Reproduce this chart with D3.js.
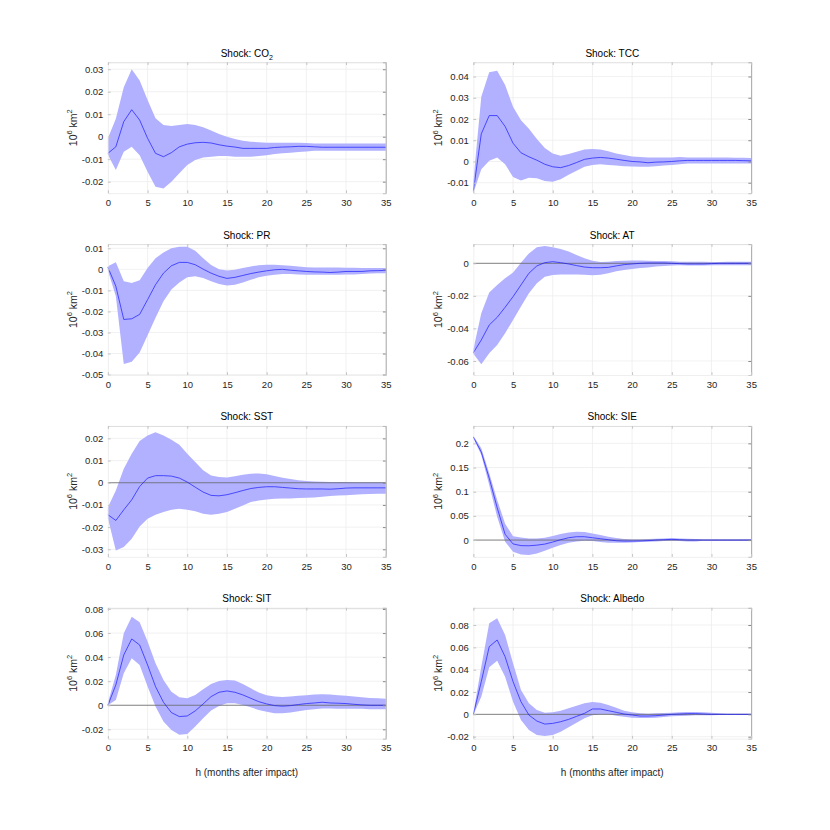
<!DOCTYPE html>
<html>
<head>
<meta charset="utf-8">
<script src="https://cdn.jsdelivr.net/npm/d3@7"></script>
<style>
  body { margin: 0; background: #fff; }
  svg { display: block; }
</style>
</head>
<body>
<div id="chart"></div>
<script>
// impulse responses of sea ice extent, h = 0..35 months after impact
const horizons = [0, 1, 2, 3, 4, 5, 6, 7, 8, 9, 10, 11, 12, 13, 14, 15, 16, 17,
    18, 19, 20, 21, 22, 23, 24, 25, 26, 27, 28, 29, 30, 31, 32, 33, 34, 35];
const xTicks = [0, 5, 10, 15, 20, 25, 30, 35];

// Shock: CO2
const co2Mean = [-0.0074, -0.0045, 0.0067, 0.012, 0.0074, -0.0007, -0.0074, -0.0089, -0.0071, -0.0045,
    -0.0033, -0.0027, -0.0025, -0.0028, -0.0036, -0.0042, -0.0046, -0.0052, -0.0052, -0.0052,
    -0.0052, -0.0048, -0.0046, -0.0045, -0.0043, -0.0043, -0.0045, -0.0047, -0.0047, -0.0047,
    -0.0047, -0.0047, -0.0047, -0.0047, -0.0047, -0.0047];
const co2Upper = [-0.0007, 0.008, 0.022, 0.030, 0.025, 0.0163, 0.0082, 0.0052, 0.0047, 0.0052,
    0.0056, 0.0052, 0.0042, 0.0027, 0.0012, 0.0, -0.001, -0.0018, -0.0022, -0.0025,
    -0.0027, -0.0027, -0.0027, -0.0027, -0.0027, -0.0028, -0.003, -0.003, -0.003, -0.003,
    -0.003, -0.003, -0.003, -0.003, -0.003, -0.003];
const co2Lower = [-0.008, -0.0148, -0.0067, -0.0045, -0.0082, -0.0156, -0.0223, -0.023, -0.020, -0.0163,
    -0.0126, -0.0104, -0.0092, -0.0089, -0.0086, -0.0086, -0.0089, -0.0089, -0.0089, -0.0086,
    -0.0082, -0.0077, -0.0074, -0.0071, -0.0068, -0.0066, -0.0062, -0.0062, -0.0062, -0.0062,
    -0.0062, -0.0062, -0.0062, -0.0062, -0.0062, -0.0062];
const co2Domain = [-0.0251, 0.0331];
const co2Ticks = [-0.02, -0.01, 0, 0.01, 0.02, 0.03];

// Shock: TCC
const tccMean = [-0.014, 0.013, 0.0216, 0.0216, 0.0165, 0.0086, 0.0041, 0.0022, 0.0006, -0.0013,
    -0.0025, -0.0029, -0.0019, -0.0005, 0.001, 0.0016, 0.0019, 0.0016, 0.0011, 0.0005,
    0.0, -0.0002, -0.0006, -0.0003, -0.0002, 0.0, 0.0003, 0.0005, 0.0005, 0.0005,
    0.0005, 0.0005, 0.0005, 0.0005, 0.0004, 0.0003];
const tccUpper = [-0.0092, 0.0305, 0.042, 0.0427, 0.036, 0.0257, 0.0194, 0.0154, 0.0106, 0.0063,
    0.0038, 0.0027, 0.0035, 0.0046, 0.0056, 0.0059, 0.0056, 0.0048, 0.0038, 0.003,
    0.0024, 0.0021, 0.0019, 0.0019, 0.0019, 0.0019, 0.0021, 0.0019, 0.0019, 0.0019,
    0.0019, 0.0019, 0.0019, 0.0018, 0.0017, 0.0016];
const tccLower = [-0.0148, -0.0037, 0.0003, 0.0019, -0.0013, -0.0073, -0.0089, -0.0076, -0.0079, -0.0092,
    -0.0095, -0.0084, -0.0063, -0.0044, -0.0025, -0.0016, -0.0013, -0.0016, -0.0019, -0.0022,
    -0.0024, -0.0025, -0.0025, -0.0022, -0.0019, -0.0016, -0.0013, -0.001, -0.001, -0.001,
    -0.001, -0.001, -0.001, -0.001, -0.001, -0.001];
const tccDomain = [-0.0149, 0.0467];
const tccTicks = [-0.01, 0, 0.01, 0.02, 0.03, 0.04];

// Shock: PR
const prMean = [0.001, -0.008, -0.0238, -0.0235, -0.0214, -0.0144, -0.0073, -0.0018, 0.0017, 0.0033,
    0.0033, 0.0022, 0.0001, -0.0018, -0.0033, -0.0043, -0.0038, -0.0029, -0.002, -0.0013,
    -0.0007, -0.0002, 0.0, -0.0004, -0.0007, -0.001, -0.0012, -0.0013, -0.0015, -0.0013,
    -0.001, -0.001, -0.001, -0.0007, -0.0006, -0.0005];
const prUpper = [0.0015, 0.0034, -0.0057, -0.0065, -0.0052, 0.0006, 0.0053, 0.008, 0.01, 0.0108,
    0.0108, 0.0089, 0.0053, 0.0021, 0.0001, -0.0005, -0.0002, 0.0006, 0.0014, 0.002,
    0.0022, 0.0022, 0.002, 0.0017, 0.0014, 0.001, 0.0009, 0.0009, 0.0009, 0.0009,
    0.0008, 0.0008, 0.0007, 0.0007, 0.0007, 0.0007];
const prLower = [-0.0005, -0.0128, -0.045, -0.0439, -0.0395, -0.0313, -0.023, -0.0151, -0.0096, -0.0062,
    -0.0038, -0.0033, -0.0041, -0.0057, -0.007, -0.0077, -0.0073, -0.0062, -0.0049, -0.0038,
    -0.003, -0.0026, -0.0022, -0.0022, -0.0024, -0.0026, -0.0026, -0.0026, -0.0026, -0.0026,
    -0.0025, -0.0024, -0.0022, -0.002, -0.0019, -0.0018];
const prDomain = [-0.0502, 0.012];
const prTicks = [-0.05, -0.04, -0.03, -0.02, -0.01, 0, 0.01];

// Shock: AT
const atMean = [-0.0549, -0.0471, -0.0379, -0.0332, -0.027, -0.0205, -0.0133, -0.0061, -0.0016, 0.0004,
    0.001, 0.0004, -0.0004, -0.0014, -0.0023, -0.0027, -0.0027, -0.0025, -0.0016, -0.0008,
    -0.0004, 0.0, 0.0002, 0.0002, 0.0002, 0.0, -0.0002, -0.0004, -0.0004, -0.0004,
    -0.0002, 0.0, 0.0, 0.0, 0.0, 0.0];
const atUpper = [-0.053, -0.0307, -0.018, -0.0133, -0.0092, -0.0057, 0.0004, 0.0061, 0.0098, 0.0106,
    0.0098, 0.0088, 0.0072, 0.0051, 0.0031, 0.0016, 0.0008, 0.001, 0.0014, 0.0016,
    0.0018, 0.0018, 0.0016, 0.0014, 0.0014, 0.0012, 0.001, 0.001, 0.001, 0.001,
    0.0008, 0.0008, 0.001, 0.001, 0.001, 0.001];
const atLower = [-0.0556, -0.062, -0.0553, -0.0502, -0.043, -0.0348, -0.0266, -0.0184, -0.0123, -0.0082,
    -0.0072, -0.0068, -0.0068, -0.0068, -0.007, -0.0074, -0.007, -0.0061, -0.0049, -0.0041,
    -0.0035, -0.0029, -0.0025, -0.002, -0.0016, -0.0014, -0.0012, -0.0014, -0.0014, -0.0014,
    -0.0012, -0.0012, -0.0012, -0.0012, -0.0012, -0.0012];
const atDomain = [-0.0686, 0.0118];
const atTicks = [-0.06, -0.04, -0.02, 0];

// Shock: SST
const sstMean = [-0.0144, -0.017, -0.0122, -0.0077, -0.0017, 0.0021, 0.0032, 0.0032, 0.003, 0.0021,
    0.0003, -0.002, -0.0042, -0.0057, -0.0059, -0.0054, -0.0045, -0.0035, -0.0026, -0.0021,
    -0.0018, -0.0018, -0.0021, -0.0024, -0.0027, -0.0028, -0.0028, -0.0028, -0.0029, -0.0027,
    -0.0024, -0.0023, -0.0023, -0.0023, -0.0023, -0.0023];
const sstUpper = [-0.011, -0.0035, 0.0063, 0.0131, 0.0188, 0.0213, 0.0228, 0.0213, 0.0194, 0.0171,
    0.0131, 0.0093, 0.0056, 0.0033, 0.0026, 0.0024, 0.0029, 0.0036, 0.0041, 0.0042,
    0.0038, 0.003, 0.0023, 0.0017, 0.0011, 0.0008, 0.0006, 0.0005, 0.0003, 0.0003,
    0.0003, 0.0002, 0.0002, 0.0002, 0.0002, 0.0002];
const sstLower = [-0.016, -0.0305, -0.029, -0.0252, -0.0197, -0.0162, -0.0144, -0.0132, -0.0122, -0.0117,
    -0.0122, -0.0129, -0.014, -0.0144, -0.014, -0.0132, -0.0117, -0.0102, -0.0087, -0.008,
    -0.0075, -0.0072, -0.0071, -0.0071, -0.0069, -0.0068, -0.0067, -0.0063, -0.006, -0.0057,
    -0.0056, -0.0054, -0.0052, -0.0051, -0.005, -0.005];
const sstDomain = [-0.0334, 0.0256];
const sstTicks = [-0.03, -0.02, -0.01, 0, 0.01, 0.02];

// Shock: SIE
const sieMean = [0.213, 0.182, 0.128, 0.067, 0.012, -0.008, -0.0115, -0.0118, -0.0105, -0.0083,
    -0.0041, 0.0007, 0.0048, 0.0069, 0.0069, 0.0048, 0.0028, 0.0007, -0.0014, -0.0021,
    -0.0021, -0.0018, -0.0012, 0.0, 0.0007, 0.0014, 0.0007, 0.0, 0.0, 0.0,
    0.0, 0.0, 0.0, 0.0, 0.0, 0.0];
const sieUpper = [0.216, 0.19, 0.138, 0.083, 0.034, 0.008, 0.0055, 0.0034, 0.0034, 0.0048,
    0.0083, 0.0124, 0.0159, 0.0172, 0.0166, 0.0138, 0.0103, 0.0069, 0.0041, 0.0021,
    0.0014, 0.0014, 0.0021, 0.0028, 0.0034, 0.0041, 0.0034, 0.0028, 0.0021, 0.0014,
    0.0014, 0.0014, 0.0014, 0.0014, 0.0014, 0.0014];
const sieLower = [0.211, 0.176, 0.114, 0.048, -0.0034, -0.024, -0.0297, -0.031, -0.0276, -0.022,
    -0.0159, -0.0103, -0.0055, -0.0028, -0.0014, -0.0021, -0.0041, -0.0055, -0.0055, -0.0055,
    -0.0048, -0.0041, -0.0034, -0.0028, -0.0021, -0.0021, -0.0021, -0.0028, -0.0028, -0.0014,
    -0.0014, -0.0014, -0.0014, -0.0014, -0.0014, -0.0014];
const sieDomain = [-0.0347, 0.236];
const sieTicks = [0, 0.05, 0.1, 0.15, 0.2];

// Shock: SIT
const sitMean = [0.0, 0.0169, 0.0418, 0.0551, 0.0501, 0.0335, 0.0155, 0.0025, -0.0061, -0.0094,
    -0.0089, -0.0047, 0.0011, 0.0072, 0.0108, 0.0119, 0.0108, 0.0086, 0.0058, 0.003,
    0.0011, -0.0003, -0.0008, -0.0003, 0.0006, 0.0014, 0.0019, 0.0025, 0.0019, 0.0017,
    0.0014, 0.0008, 0.0003, 0.0, 0.0, 0.0];
const sitUpper = [0.002, 0.0252, 0.0598, 0.0736, 0.0689, 0.0529, 0.0349, 0.021, 0.0113, 0.0066,
    0.0058, 0.0086, 0.0133, 0.0177, 0.0202, 0.021, 0.0205, 0.0177, 0.0141, 0.0105,
    0.0083, 0.0072, 0.0069, 0.0072, 0.0078, 0.0083, 0.0089, 0.0091, 0.0089, 0.0083,
    0.0078, 0.0072, 0.0066, 0.0061, 0.0058, 0.0055];
const sitLower = [0.0, 0.0044, 0.0266, 0.039, 0.0335, 0.0155, -0.0011, -0.0136, -0.0205, -0.0246,
    -0.0238, -0.0177, -0.0108, -0.0044, -0.0006, 0.0017, 0.0017, 0.0003, -0.0017, -0.0039,
    -0.0055, -0.0066, -0.0066, -0.0061, -0.005, -0.0039, -0.0033, -0.0028, -0.0028, -0.003,
    -0.003, -0.003, -0.003, -0.0033, -0.0033, -0.0033];
const sitDomain = [-0.0278, 0.081];
const sitTicks = [-0.02, 0, 0.02, 0.04, 0.06, 0.08];

// Shock: Albedo
const albedoMean = [0.0, 0.0293, 0.0606, 0.0666, 0.0516, 0.0293, 0.0113, -0.0006, -0.006, -0.0087,
    -0.0081, -0.0066, -0.0045, -0.0018, 0.0009, 0.0048, 0.0048, 0.0033, 0.0018, 0.0003,
    -0.0006, -0.0015, -0.0015, -0.0012, -0.0006, 0.0, 0.0003, 0.0006, 0.0006, 0.0003,
    0.0, 0.0, 0.0, 0.0, 0.0, 0.0];
const albedoUpper = [0.001, 0.0427, 0.0815, 0.086, 0.071, 0.0457, 0.0218, 0.0099, 0.0039, 0.0015,
    0.0018, 0.0033, 0.0054, 0.0078, 0.0099, 0.011, 0.0104, 0.0084, 0.006, 0.0033,
    0.0018, 0.0009, 0.0006, 0.0009, 0.0012, 0.0015, 0.0018, 0.0021, 0.0021, 0.0018,
    0.0015, 0.0009, 0.0006, 0.0006, 0.0006, 0.0006];
const albedoLower = [-0.0005, 0.0158, 0.0421, 0.0481, 0.0337, 0.0113, -0.0051, -0.014, -0.0185, -0.0194,
    -0.0185, -0.0155, -0.0116, -0.0075, -0.0036, -0.0009, 0.0, 0.0, -0.0012, -0.0021,
    -0.003, -0.0033, -0.0033, -0.003, -0.0024, -0.0018, -0.0015, -0.0012, -0.0009, -0.0009,
    -0.0009, -0.0006, -0.0006, -0.0006, -0.0006, -0.0006];
const albedoDomain = [-0.0218, 0.0954];
const albedoTicks = [-0.02, 0, 0.02, 0.04, 0.06, 0.08];

const panels = [
    { name: "CO", sub: "2", mean: co2Mean, upper: co2Upper, lower: co2Lower, domain: co2Domain, ticks: co2Ticks, zero: false },
    { name: "TCC", mean: tccMean, upper: tccUpper, lower: tccLower, domain: tccDomain, ticks: tccTicks, zero: false },
    { name: "PR", mean: prMean, upper: prUpper, lower: prLower, domain: prDomain, ticks: prTicks, zero: false },
    { name: "AT", mean: atMean, upper: atUpper, lower: atLower, domain: atDomain, ticks: atTicks, zero: true },
    { name: "SST", mean: sstMean, upper: sstUpper, lower: sstLower, domain: sstDomain, ticks: sstTicks, zero: true },
    { name: "SIE", mean: sieMean, upper: sieUpper, lower: sieLower, domain: sieDomain, ticks: sieTicks, zero: true },
    { name: "SIT", mean: sitMean, upper: sitUpper, lower: sitLower, domain: sitDomain, ticks: sitTicks, zero: true },
    { name: "Albedo", mean: albedoMean, upper: albedoUpper, lower: albedoLower, domain: albedoDomain, ticks: albedoTicks, zero: true },
];

const width = 830;
const height = 830;
const font = "'Liberation Sans', Arial, Helvetica, sans-serif";

// subplot(4,2,k) positions, in figure fractions
const colLeft = [0.13, 0.5703];
const rowBottom = [0.7673, 0.5482, 0.3291, 0.11];
const axW = 0.3347 * width;
const axH = 0.1577 * height;

const svg = d3.select("#chart").append("svg")
    .attr("width", width)
    .attr("height", height)
    .style("font-family", font);

panels.forEach((p, i) => drawPanel(p, i % 2, Math.floor(i / 2)));

function drawPanel(p, col, row) {
    const left = colLeft[col] * width;
    const top = (1 - rowBottom[row]) * height - axH;

    const g = svg.append("g").attr("transform", `translate(${left},${top})`);

    const x = d3.scaleLinear().domain([0, 35]).range([0, axW]);
    const y = d3.scaleLinear().domain(p.domain).range([axH, 0]);

    // grid
    g.append("g").selectAll("line")
        .data(xTicks.slice(1, -1))
        .enter().append("line")
        .attr("x1", d => x(d)).attr("x2", d => x(d))
        .attr("y1", 0).attr("y2", axH)
        .style("stroke", "#ebebeb")
        .style("stroke-width", 0.7);

    g.append("g").selectAll("line")
        .data(p.ticks)
        .enter().append("line")
        .attr("x1", 0).attr("x2", axW)
        .attr("y1", d => y(d)).attr("y2", d => y(d))
        .style("stroke", "#ebebeb")
        .style("stroke-width", 0.7);

    const rows = horizons.map((h, k) => ({ h: h, m: p.mean[k], lo: p.lower[k], hi: p.upper[k] }));

    const band = d3.area()
        .x(d => x(d.h))
        .y0(d => y(d.lo))
        .y1(d => y(d.hi));

    g.append("path")
        .datum(rows)
        .attr("d", band)
        .style("fill", "#b1b1ff")
        .style("stroke", "none");

    if (p.zero) {
        g.append("line")
            .attr("x1", 0).attr("x2", axW)
            .attr("y1", y(0)).attr("y2", y(0))
            .style("stroke", "#666")
            .style("stroke-width", 0.8);
    }

    const line = d3.line()
        .x(d => x(d.h))
        .y(d => y(d.m));

    g.append("path")
        .datum(rows)
        .attr("d", line)
        .style("fill", "none")
        .style("stroke", "#1a1aff")
        .style("stroke-width", 0.7);

    // axes (ticks point inward, box on)
    const fmt = d => String(+d.toFixed(4));

    const yAxis = g.append("g")
        .call(d3.axisLeft(y).tickValues(p.ticks).tickSize(-2.8).tickPadding(4.5).tickFormat(fmt));
    const yAxisR = g.append("g")
        .attr("transform", `translate(${axW},0)`)
        .call(d3.axisRight(y).tickValues(p.ticks).tickSize(-2.8).tickFormat(""));
    const xAxis = g.append("g")
        .attr("transform", `translate(0,${axH})`)
        .call(d3.axisBottom(x).tickValues(xTicks).tickSize(-2.8).tickPadding(6).tickFormat(d3.format("d")));
    const xAxisT = g.append("g")
        .call(d3.axisTop(x).tickValues(xTicks).tickSize(-2.8).tickFormat(""));

    [yAxis, xAxis].forEach(a => {
        a.select(".domain").style("stroke", "#e4e4e4").style("stroke-width", 0.6);
        a.selectAll(".tick line").style("stroke", "#c4c4c4");
        a.selectAll("text")
            .style("font-family", font)
            .style("font-size", "9.5px")
            .style("fill", "#262626");
    });
    yAxisR.select(".domain").style("stroke", "#9a9a9a").style("stroke-width", 0.9);
    yAxisR.selectAll(".tick line").style("stroke", "#8a8a8a");
    xAxisT.select(".domain").style("stroke", "#c8c8c8").style("stroke-width", 0.6);
    xAxisT.selectAll(".tick line").style("stroke", "#c4c4c4");

    // title
    const title = g.append("text")
        .attr("x", axW / 2)
        .attr("y", -5.5)
        .attr("text-anchor", "middle")
        .style("font-size", "10px")
        .style("fill", "#000");
    title.append("tspan").text("Shock: " + p.name);
    if (p.sub) {
        title.append("tspan").attr("dy", 3).style("font-size", "7px").text(p.sub);
    }

    // y label
    const yl = g.append("text")
        .attr("transform", `translate(-31,${axH / 2}) rotate(-90)`)
        .attr("text-anchor", "middle")
        .style("font-size", "10.5px")
        .style("fill", "#262626");
    yl.append("tspan").text("10");
    yl.append("tspan").attr("dy", -4.5).style("font-size", "7.5px").text("6");
    yl.append("tspan").attr("dy", 4.5).text(" km");
    yl.append("tspan").attr("dy", -4.5).style("font-size", "7.5px").text("2");

    if (row === 3) {
        g.append("text")
            .attr("x", axW / 2)
            .attr("y", axH + 37)
            .attr("text-anchor", "middle")
            .style("font-size", "10px")
            .style("fill", "#262626")
            .text("h (months after impact)");
    }
}
</script>
</body>
</html>
